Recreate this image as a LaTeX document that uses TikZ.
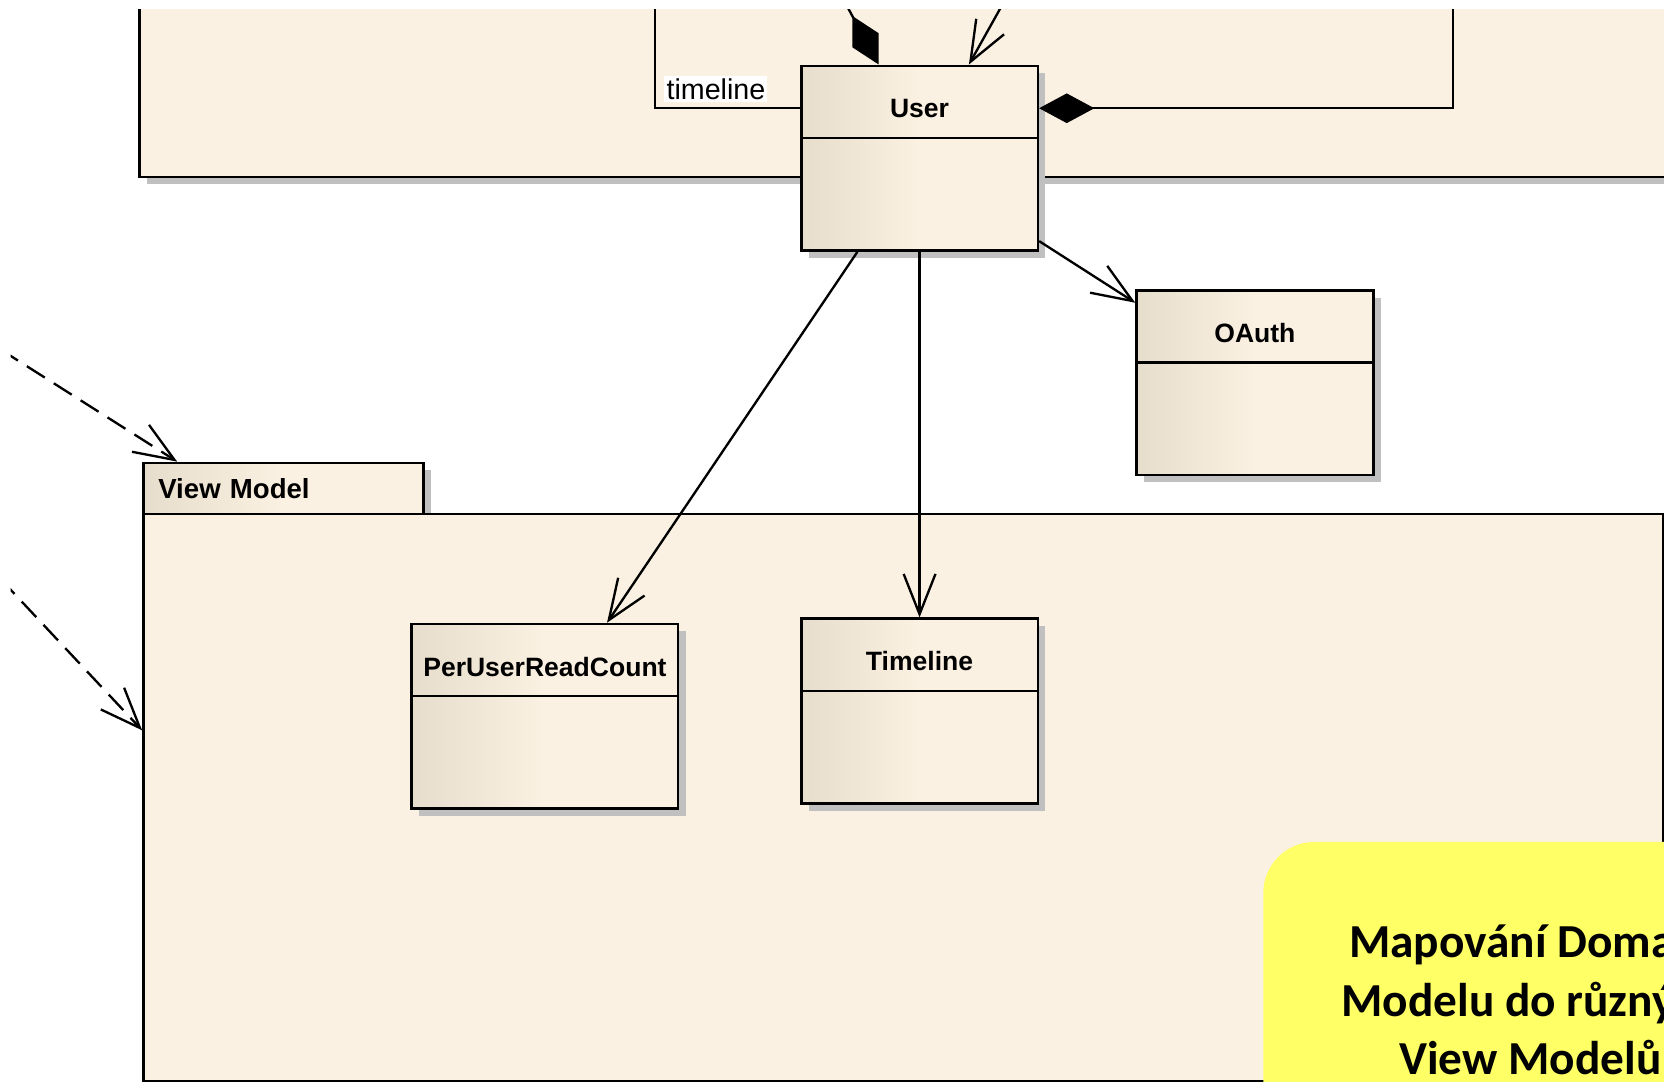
\documentclass[tikz,border=0pt]{standalone}
\usepackage{fontspec}
\setmainfont{Liberation Sans}
\newfontfamily\notefont{Carlito}
\usetikzlibrary{arrows.meta, shadows, positioning}

\definecolor{pkgfill}{RGB}{251,241,226}
\definecolor{clsdark}{RGB}{231,221,204}
\definecolor{shadowgray}{RGB}{192,192,192}
\definecolor{notefill}{RGB}{255,255,102}

\tikzset{
  shadowed/.style={drop shadow={fill=shadowgray, opacity=1, shadow xshift=3.5pt, shadow yshift=-3.5pt}},
  classbox/.style={draw, line width=1.2pt, shadowed,
    left color=clsdark, right color=pkgfill, middle color=pkgfill,
    minimum width=111.5pt, minimum height=87pt, inner sep=0pt,
    text height=24.5pt, text depth=62.5pt,
    font=\fontsize{12.5}{15}\selectfont\bfseries,
    path picture={\draw[line width=1.2pt]
      ([yshift=-34pt]path picture bounding box.north west) --
      ([yshift=-34pt]path picture bounding box.north east);}},
  pkgbody/.style={draw, line width=1.2pt, fill=pkgfill, shadowed, inner sep=0pt},
  pkgtab/.style={draw, line width=1.2pt, shadowed,
    left color=clsdark, right color=pkgfill, middle color=pkgfill,
    minimum width=132pt, minimum height=24pt, inner xsep=7pt, inner ysep=0pt,
    text width=118pt, align=left, font=\fontsize{13}{15}\selectfont\bfseries},
  notebox/.style={fill=notefill, rounded corners=24pt, inner sep=0pt},
  notetext/.style={align=center, font=\notefont\bfseries\fontsize{22.3}{27.5}\selectfont},
  assoc/.style={line width=1.1pt, -{Straight Barb[length=19pt, width=15pt]}},
  depend/.style={assoc, dash pattern=on 10pt off 5pt},
  compose/.style={line width=1.1pt, {Diamond[length=26pt, width=14pt]}-},
  rolelabel/.style={fill=white, inner sep=1pt, font=\fontsize{13.5}{15}\selectfont}
}

\begin{document}
\begin{tikzpicture}[x=0.5pt, y=-0.5pt]
  \useasboundingbox (0,0) rectangle (1568,1019);
  \clip (10,9) rectangle (1568,1019);

  % packages
  \node[pkgbody, anchor=south west, minimum width=785pt, minimum height=110pt]
    (domain) at (130,168) {};
  \node[pkgtab, anchor=north west] (vmtab) at (134,435) {View Model};
  \node[pkgbody, anchor=north west, minimum width=716pt, minimum height=267.5pt]
    (vmbody) at (134,483) {};

  % classes
  \node[classbox] (user) at (866.5,149) {User};
  \node[classbox] (oauth) at (1182.5,360.5) {OAuth};
  \node[classbox, minimum width=125.5pt] (perusr) at (513.5,675) {PerUserReadCount};
  \node[classbox] (timeline) at (866.5,670) {Timeline};

  % note
  \node[notebox, anchor=north west, minimum width=252pt, minimum height=160pt]
    (note) at (1190,793) {};
  \node[notetext] (notetxt) at (1442,942) {Mapování Domain\\Modelu do různých\\View Modelů};

  % free ends outside the crop
  \coordinate (tlend) at (617,0);
  \coordinate (cmptop) at (795,0);
  \coordinate (asctop) at (947,0);
  \coordinate (cmpright) at (1369,0);
  \coordinate (dep1) at (0,329);
  \coordinate (dep2) at (0,545);

  % connectors
  \draw[line width=1.1pt] ([yshift=23.5pt]user.west) -| (tlend)
    node[rolelabel, pos=0.5, anchor=south west, xshift=4pt, yshift=2.5pt] {timeline};
  \draw[compose] ([xshift=-19.25pt]user.north) -- (cmptop);
  \draw[assoc] (asctop) -- ([xshift=23.25pt]user.north);
  \draw[compose] ([yshift=23.5pt]user.east) -| (cmpright);
  \draw[assoc] ([yshift=5pt]user.south east) -- ([yshift=-6.5pt]oauth.north west);
  \draw[assoc] ([xshift=-29.25pt]user.south) -- ([xshift=29.25pt]perusr.north);
  \draw[assoc] (user.south) -- (timeline.north);
  \draw[depend] (dep1) -- ([xshift=16.5pt]vmtab.north west);
  \draw[depend] (dep2) -- ([yshift=31.75pt]vmbody.west);
\end{tikzpicture}
\end{document}
